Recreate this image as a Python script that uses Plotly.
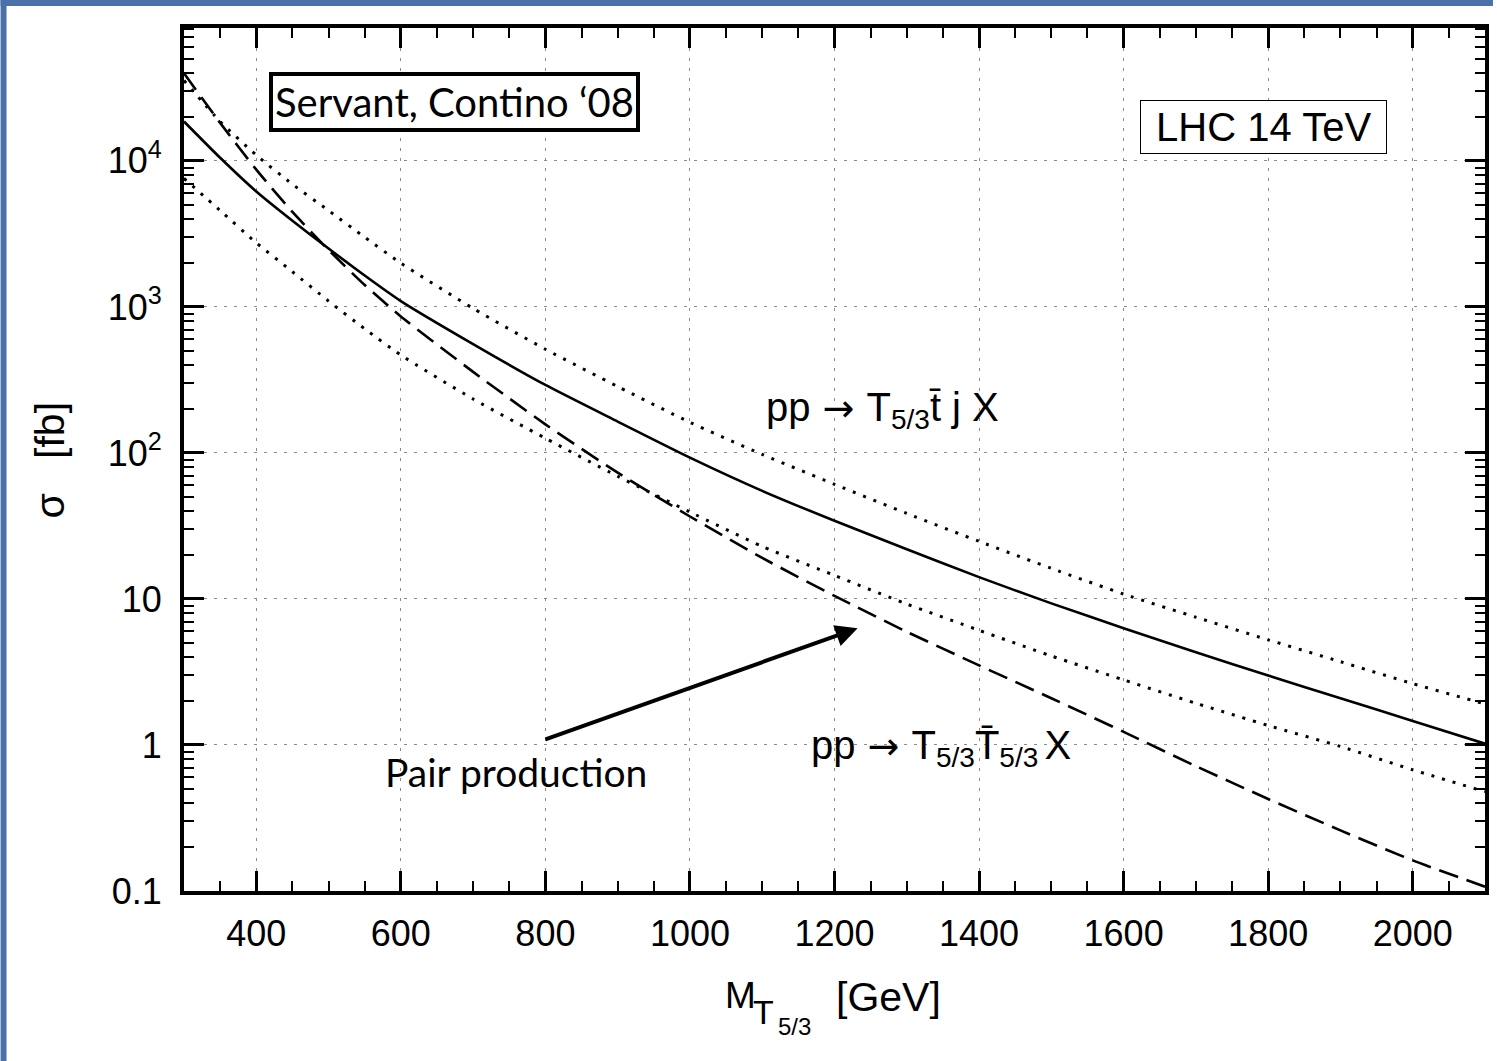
import plotly.graph_objects as go

# Heavy-partner mass grid [GeV]
mass = [300, 350, 400, 450, 500, 550, 600, 700, 800, 900, 1000, 1100, 1200,
        1300, 1400, 1500, 1600, 1700, 1800, 1900, 2000, 2100]

# Single production pp -> T5/3 tbar j X, central value [fb]
sigma_single = [18600, 10500, 6170, 3890, 2510, 1640, 1096, 556, 292, 164, 92.9,
                55.0, 34.3, 21.9, 14.1, 9.33, 6.31, 4.32, 2.99, 2.09, 1.46, 1.02]
# Single production, upper edge of the scale band [fb]
sigma_single_hi = [35500, 18600, 10960, 6920, 4570, 3000, 1995, 977, 513, 285, 162,
                   97.7, 61.0, 38.5, 24.8, 16.2, 10.8, 7.50, 5.25, 3.72, 2.63, 1.91]
# Single production, lower edge of the scale band [fb]
sigma_single_lo = [7590, 4570, 2750, 1740, 1096, 708, 468, 234, 126, 69.2, 39.4,
                   22.9, 14.5, 9.23, 6.10, 4.07, 2.79, 1.93, 1.36, 0.977, 0.676, 0.479]
# Pair production pp -> T5/3 T5/3bar X [fb]
sigma_pair = [39800, 18200, 8710, 4470, 2455, 1413, 861, 359, 157, 73.3, 36.7,
              19.1, 10.5, 5.96, 3.51, 2.09, 1.23, 0.716, 0.427, 0.260, 0.162, 0.107]

x_ticks = [400, 600, 800, 1000, 1200, 1400, 1600, 1800, 2000]
y_ticks = [0.1, 1, 10, 100, 1000, 10000]
y_ticktext = ["0.1", "1", "10", "10<sup>2</sup>", "10<sup>3</sup>", "10<sup>4</sup>"]

W, H = 1497, 1061
ML, MR, MT, MB = 184, 8, 28, 170
PW, PH = W - ML - MR, H - MT - MB


def px_x(px):
    return (px - ML) / PW


def px_y(py):
    return (H - MB - py) / PH


FONT = "Liberation Sans, Arial, Helvetica, sans-serif"
GILL = "Lato, Open Sans, sans-serif"
NB = "\u00a0"
ARROW = "<span style='font-family:DejaVu Sans;font-size:38px'>" + NB + "→" + NB + "</span>"
THIN = "<span style='font-size:22px'>" + NB + "</span>"

fig = go.Figure()
line_common = dict(color="black", shape="spline", smoothing=0.6)
fig.add_trace(go.Scatter(x=mass, y=sigma_single_hi, mode="lines",
                         line=dict(width=3, dash="3px,8px", **line_common)))
fig.add_trace(go.Scatter(x=mass, y=sigma_single_lo, mode="lines",
                         line=dict(width=3, dash="3px,8px", **line_common)))
fig.add_trace(go.Scatter(x=mass, y=sigma_pair, mode="lines",
                         line=dict(width=2.6, dash="20px,9px", **line_common)))
fig.add_trace(go.Scatter(x=mass, y=sigma_single, mode="lines",
                         line=dict(width=2.6, **line_common)))

fig.update_xaxes(
    range=[300, 2100], tickvals=x_ticks, ticks="inside", ticklen=20, tickwidth=3,
    tickcolor="black", showline=True, linewidth=4, linecolor="black", mirror="ticks",
    showgrid=True, gridcolor="#8a8a8a", gridwidth=1, griddash="3px,7px",
    zeroline=False, tickfont=dict(family=FONT, size=36, color="black"),
    ticklabelstandoff=8,
    minor=dict(dtick=50, ticks="inside", ticklen=10, tickwidth=2, tickcolor="black",
               showgrid=False),
)
fig.update_yaxes(
    type="log", range=[-1, 4.91], tickvals=y_ticks, ticktext=y_ticktext,
    ticks="inside", ticklen=20, tickwidth=3, tickcolor="black",
    showline=True, linewidth=4, linecolor="black", mirror="ticks",
    showgrid=True, gridcolor="#8a8a8a", gridwidth=1, griddash="3px,7px",
    zeroline=False, tickfont=dict(family=FONT, size=36, color="black"),
    ticklabelstandoff=11,
    minor=dict(dtick="D1", ticks="inside", ticklen=10, tickwidth=2,
               tickcolor="black", showgrid=False),
)

annotations = [
    # x-axis title, built from pieces so the subscript can carry its own subscript
    dict(x=px_x(725), y=px_y(995), text="M", showarrow=False,
         xanchor="left", yanchor="middle", font=dict(family=FONT, size=37)),
    dict(x=px_x(753), y=px_y(1012), text="T", showarrow=False,
         xanchor="left", yanchor="middle", font=dict(family=FONT, size=34)),
    dict(x=px_x(778), y=px_y(1026), text="5/3", showarrow=False,
         xanchor="left", yanchor="middle", font=dict(family=FONT, size=24)),
    dict(x=px_x(836), y=px_y(997), text="[GeV]", showarrow=False,
         xanchor="left", yanchor="middle", font=dict(family=FONT, size=41)),
    # y-axis title
    dict(x=px_x(50), y=px_y(460), text="σ" + NB * 3 + "[fb]", showarrow=False,
         textangle=-90, xanchor="center", yanchor="middle",
         font=dict(family=FONT, size=41)),
    # boxed labels
    dict(x=px_x(455), y=px_y(102), text="Servant, Contino ‘08", showarrow=False,
         xanchor="center", yanchor="middle", font=dict(family=GILL, size=40),
         bordercolor="black", borderwidth=4, borderpad=2, bgcolor="white"),
    dict(x=px_x(1267), y=px_y(127), text=NB + "LHC 14 TeV" + NB, showarrow=False,
         xanchor="center", yanchor="middle", font=dict(family=FONT, size=40),
         bordercolor="black", borderwidth=1, borderpad=4, bgcolor="white"),
    # process labels
    dict(x=px_x(766), y=px_y(410),
         text="pp" + ARROW + "T<sub>5/3</sub>t\u0304 j X",
         showarrow=False, xanchor="left", yanchor="middle",
         font=dict(family=FONT, size=40)),
    dict(x=px_x(811), y=px_y(748),
         text="pp" + ARROW + "T<sub>5/3</sub>T\u0304<sub>5/3</sub>" + THIN + "X",
         showarrow=False, xanchor="left", yanchor="middle",
         font=dict(family=FONT, size=40)),
    dict(x=px_x(517), y=px_y(772), text="Pair production", showarrow=False,
         xanchor="center", yanchor="middle", font=dict(family=GILL, size=39)),
    # arrow towards the pair-production curve
    dict(x=1232, y=0.80, ax=798, ay=0.035, xref="x", yref="y", axref="x", ayref="y",
         text="", showarrow=True, arrowhead=2, arrowsize=1.1, arrowwidth=4,
         arrowcolor="black"),
]
for a in annotations:
    a.setdefault("xref", "paper")
    a.setdefault("yref", "paper")
    if "font" in a:
        a["font"] = dict(a["font"], color="black")

# blue frame strips along the left and top edges of the page
FRAME = "#4a72a9"
shapes = [
    dict(type="rect", xref="paper", yref="paper", x0=px_x(0), x1=px_x(6),
         y0=px_y(H), y1=px_y(0), fillcolor=FRAME, line=dict(width=0), layer="above"),
    dict(type="rect", xref="paper", yref="paper", x0=px_x(0), x1=px_x(W),
         y0=px_y(6), y1=px_y(0), fillcolor=FRAME, line=dict(width=0), layer="above"),
]

fig.update_layout(
    width=W, height=H, margin=dict(l=ML, r=MR, t=MT, b=MB),
    paper_bgcolor="white", plot_bgcolor="white", showlegend=False,
    annotations=annotations, shapes=shapes,
    font=dict(family=FONT, color="black"),
)

fig.write_html("out.html")
